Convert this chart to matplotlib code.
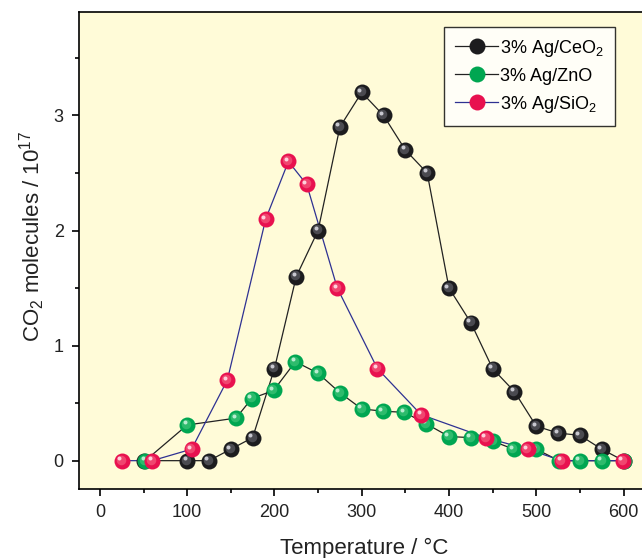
import numpy as np
import matplotlib
matplotlib.use('Agg')
import matplotlib.pyplot as plt
from matplotlib.transforms import offset_copy
from matplotlib.lines import Line2D

plt.rcParams['font.family'] = ['Liberation Sans', 'DejaVu Sans']

# 3% Ag/CeO2
t_ceo2 = [50, 100, 125, 150, 175, 200, 225, 250, 275, 300, 325, 350, 375,
          400, 425, 450, 475, 500, 525, 550, 575, 600]
co2_ceo2 = [0, 0, 0, 0.1, 0.2, 0.8, 1.6, 2.0, 2.9, 3.2, 3.0, 2.7, 2.5,
            1.5, 1.2, 0.8, 0.6, 0.3, 0.24, 0.22, 0.1, 0]

# 3% Ag/ZnO
t_zno = [52, 100, 156, 174, 199, 224, 250, 275, 300, 324, 349, 374, 400,
         425, 450, 474, 500, 526, 550, 575, 600]
co2_zno = [0, 0.31, 0.37, 0.54, 0.61, 0.86, 0.76, 0.59, 0.45, 0.43, 0.42,
           0.32, 0.21, 0.2, 0.17, 0.1, 0.1, 0, 0, 0, 0]

# 3% Ag/SiO2
t_sio2 = [25, 60, 105, 146, 190, 216, 237, 272, 318, 368, 442, 490, 529, 599]
co2_sio2 = [0, 0, 0.1, 0.7, 2.1, 2.6, 2.4, 1.5, 0.8, 0.4, 0.2, 0.1, 0, 0]

fig = plt.figure(figsize=(6.42, 5.58), dpi=100)
ax = fig.add_axes([0.123, 0.1237, 0.889, 0.855])
ax.set_facecolor('#fffbd8')

ms = 11.5


def ball(x, y, line_col, base, mid, light, lab):
    # line, then shaded sphere markers (base + two offset highlights)
    ax.plot(x, y, '-', color=line_col, lw=0.9, zorder=2)
    ax.plot(x, y, 'o', ms=ms, mfc=base, mec=base, mew=0, zorder=3)
    tr1 = offset_copy(ax.transData, fig=fig, x=-0.8, y=0.8, units='points')
    ax.plot(x, y, 'o', ms=ms * 0.6, mfc=mid, mew=0, transform=tr1, zorder=3)
    tr2 = offset_copy(ax.transData, fig=fig, x=-1.8, y=1.8, units='points')
    ax.plot(x, y, 'o', ms=ms * 0.25, mfc=light, mew=0, transform=tr2, zorder=3)
    return Line2D([], [], color=line_col, lw=0.9, marker='o', ms=ms,
                  mfc=base, mew=0, label=lab)


h1 = ball(t_ceo2, co2_ceo2, '#222222', '#1c1c1e', '#4a4a50', '#c8c8d0',
          r'3% Ag/CeO$_\mathregular{2}$')
h2 = ball(t_zno, co2_zno, '#222222', '#00a651', '#2dbb6c', '#b8ecd0',
          '3% Ag/ZnO')
h3 = ball(t_sio2, co2_sio2, '#2e3192', '#e8114f', '#f0456f', '#ffd0dc',
          r'3% Ag/SiO$_\mathregular{2}$')

ax.set_xlim(-24, 630)
ax.set_ylim(-0.246, 3.9)
ax.set_xticks(np.arange(0, 601, 100))
ax.set_xticks(np.arange(50, 601, 100), minor=True)
ax.set_yticks([0, 1, 2, 3])
ax.set_yticks([0.5, 1.5, 2.5, 3.5], minor=True)
ax.tick_params(which='major', direction='out', length=5, width=1.2,
               labelsize=13, pad=6, labelcolor='#222222')
ax.tick_params(which='minor', direction='out', length=3, width=1.2)
for s in ax.spines.values():
    s.set_linewidth(1.2)

ax.set_xlabel('Temperature / °C', fontsize=16, labelpad=12, color='#222222')
ax.set_ylabel(r'CO$_\mathregular{2}$ molecules / 10$^\mathregular{17}$',
              fontsize=16, labelpad=4.5, color='#222222')
ax.yaxis.label.set_y(0.53)

leg = ax.legend(handles=[h1, h2, h3], loc='upper right',
                bbox_to_anchor=(0.9387, 0.9686), borderaxespad=0,
                fontsize=13, frameon=True,
                fancybox=False, edgecolor='black', handlelength=2.4,
                handletextpad=0.1, borderpad=0.6, labelspacing=0.5)
leg.get_frame().set_linewidth(1.0)
leg.get_frame().set_facecolor('white')

fig.savefig('out.png', dpi=100)
